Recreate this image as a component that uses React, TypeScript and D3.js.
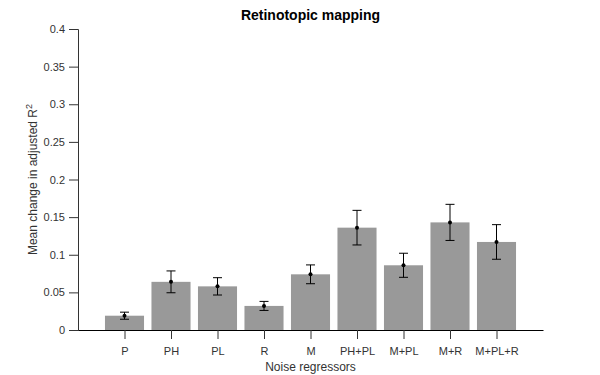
import React, { useEffect, useRef } from 'react';
import * as d3 from 'd3';

const categories = ['P', 'PH', 'PL', 'R', 'M', 'PH+PL', 'M+PL', 'M+R', 'M+PL+R'];
const means = [0.019, 0.064, 0.058, 0.032, 0.074, 0.136, 0.086, 0.143, 0.117];
const errors = [0.0047, 0.0145, 0.0115, 0.006, 0.0125, 0.023, 0.016, 0.024, 0.023];
const yTicks = [0, 0.05, 0.1, 0.15, 0.2, 0.25, 0.3, 0.35, 0.4];

const W = 600;
const H = 375;

const App: React.FC = () => {
    const svgRef = useRef<SVGSVGElement>(null);

    useEffect(() => {
        if (!svgRef.current) return;
        const svg = d3.select(svgRef.current);
        svg.selectAll('*').remove();

        const margin = { top: 29, right: 57, bottom: 45, left: 78 };
        const width = W - margin.left - margin.right;
        const height = H - margin.top - margin.bottom;
        const font = 'Liberation Sans, Arial, sans-serif';

        const x = d3.scaleLinear().domain([0, categories.length + 1]).range([0, width]);
        const y = d3.scaleLinear().domain([0, 0.4]).range([height, 0]);
        const step = x(1) - x(0);
        const barW = step * 0.84;

        const g = svg.append('g').attr('transform', `translate(${margin.left},${margin.top})`);

        // Bars
        g.selectAll('rect.bar')
            .data(means)
            .enter()
            .append('rect')
            .attr('class', 'bar')
            .attr('x', (_, i) => x(i + 1) - barW / 2)
            .attr('y', d => y(d))
            .attr('width', barW)
            .attr('height', d => height - y(d))
            .attr('fill', '#999999');

        // Error bars
        const cap = 4.5;
        const eb = g.selectAll('g.err').data(means).enter().append('g').attr('class', 'err');
        eb.append('line')
            .attr('x1', (_, i) => x(i + 1))
            .attr('x2', (_, i) => x(i + 1))
            .attr('y1', (d, i) => y(d + errors[i]))
            .attr('y2', (d, i) => y(d - errors[i]))
            .attr('stroke', '#000')
            .attr('stroke-width', 1);
        eb.append('line')
            .attr('x1', (_, i) => x(i + 1) - cap)
            .attr('x2', (_, i) => x(i + 1) + cap)
            .attr('y1', (d, i) => y(d + errors[i]))
            .attr('y2', (d, i) => y(d + errors[i]))
            .attr('stroke', '#000');
        eb.append('line')
            .attr('x1', (_, i) => x(i + 1) - cap)
            .attr('x2', (_, i) => x(i + 1) + cap)
            .attr('y1', (d, i) => y(d - errors[i]))
            .attr('y2', (d, i) => y(d - errors[i]))
            .attr('stroke', '#000');
        eb.append('circle')
            .attr('cx', (_, i) => x(i + 1))
            .attr('cy', d => y(d))
            .attr('r', 2)
            .attr('fill', '#000');

        // Y axis
        const yAxis = g.append('g')
            .call(d3.axisLeft(y).tickValues(yTicks).tickSize(9).tickPadding(4).tickFormat(d => `${+d}`));
        yAxis.select('.domain').attr('stroke', '#333');
        yAxis.selectAll('.tick line').attr('stroke', '#333');
        yAxis.selectAll('.tick text').attr('font-family', font).attr('font-size', 11).attr('fill', '#333');

        // X axis
        const xAxis = g.append('g')
            .attr('transform', `translate(0,${height})`)
            .call(d3.axisBottom(x)
                .tickValues(categories.map((_, i) => i + 1))
                .tickSize(9)
                .tickPadding(8)
                .tickFormat(d => categories[(d as number) - 1])
                .tickSizeOuter(0));
        xAxis.select('.domain').attr('stroke', '#000');
        xAxis.selectAll('.tick line').attr('stroke', '#333');
        xAxis.selectAll('.tick text').attr('font-family', font).attr('font-size', 11).attr('fill', '#333');

        // Title
        svg.append('text')
            .attr('x', margin.left + width / 2)
            .attr('y', 20)
            .attr('text-anchor', 'middle')
            .attr('font-family', font)
            .attr('font-size', 14)
            .attr('font-weight', 'bold')
            .attr('fill', '#000')
            .text('Retinotopic mapping');

        // X label
        svg.append('text')
            .attr('x', margin.left + width / 2)
            .attr('y', 371)
            .attr('text-anchor', 'middle')
            .attr('font-family', font)
            .attr('font-size', 12)
            .attr('fill', '#333')
            .text('Noise regressors');

        // Y label with superscript
        const yl = svg.append('text')
            .attr('transform', `translate(37,${margin.top + height / 2}) rotate(-90)`)
            .attr('text-anchor', 'middle')
            .attr('font-family', font)
            .attr('font-size', 12)
            .attr('fill', '#333');
        yl.append('tspan').text('Mean change in adjusted R');
        yl.append('tspan').attr('dy', -5).attr('font-size', 9).text('2');
    }, []);

    return (
        <svg
            ref={svgRef}
            width={W}
            height={H}
            style={{ position: 'absolute', left: 0, top: 0, background: '#fff', display: 'block' }}
        />
    );
};

export default App;
